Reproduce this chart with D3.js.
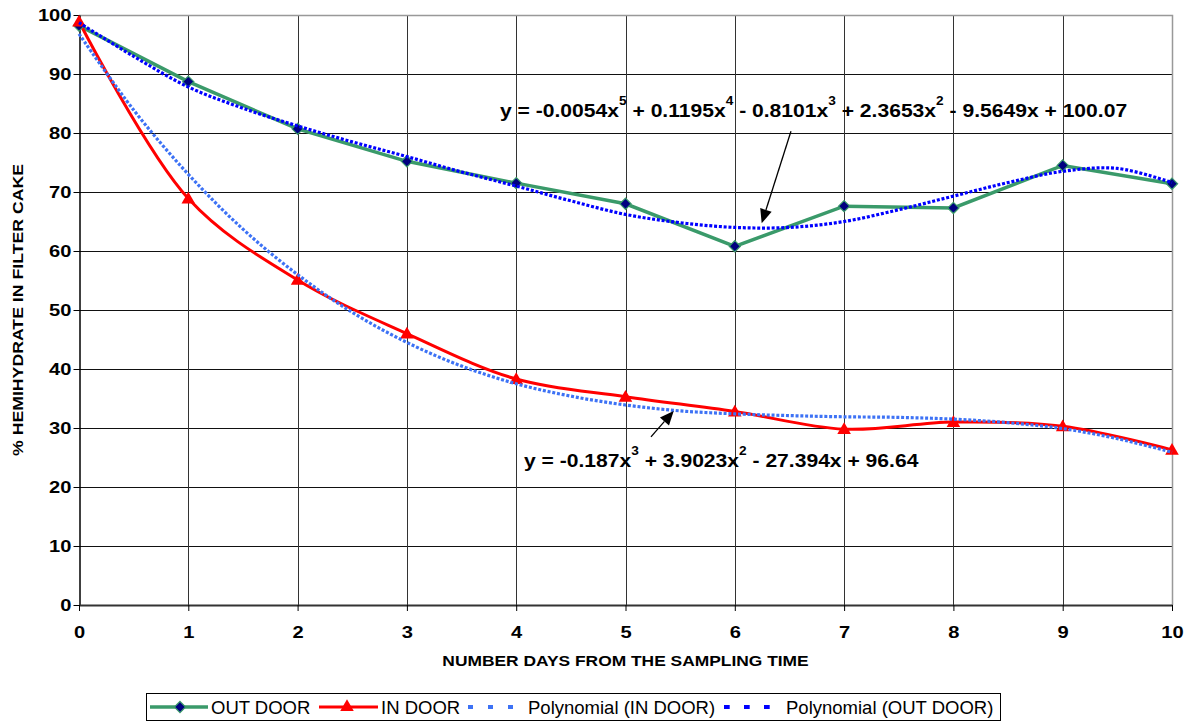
<!DOCTYPE html>
<html>
<head>
<meta charset="utf-8">
<script src="https://cdn.jsdelivr.net/npm/d3@7"></script>
<style>
  body { margin: 0; background: #fff; }
  svg { display: block; }
  text { font-family: "Liberation Sans", Arial, sans-serif; }
</style>
</head>
<body>
<svg id="chart"></svg>
<script>
// data
const days = [0, 1, 2, 3, 4, 5, 6, 7, 8, 9, 10];
const outDoor = [98.2, 88.7, 80.7, 75.2, 71.5, 68.0, 60.8, 67.6, 67.3, 74.5, 71.4];
const inDoor = [98.9, 68.9, 55.1, 46.0, 38.3, 35.3, 32.8, 29.8, 31.0, 30.3, 26.3];

// trendlines, read at half-day steps
const trendDays = [0, 0.5, 1, 1.5, 2, 2.5, 3, 3.5, 4, 4.5, 5, 5.5, 6, 6.5, 7, 7.5, 8, 8.5, 9, 9.5, 10];
const outTrend = [98.7, 93.0, 87.8, 84.2, 81.2, 78.5, 76.0, 73.4, 71.0, 68.5, 66.2, 64.8, 64.0, 64.0, 65.0, 67.0, 69.3, 71.6, 73.5, 74.0, 71.6];
const inTrend = [96.8, 83.9, 73.0, 63.7, 56.0, 49.6, 44.5, 40.5, 37.5, 35.4, 33.9, 32.9, 32.4, 32.1, 31.9, 31.8, 31.5, 30.9, 29.9, 28.2, 25.9];

const xTicks = [0, 1, 2, 3, 4, 5, 6, 7, 8, 9, 10];
const yTicks = [0, 10, 20, 30, 40, 50, 60, 70, 80, 90, 100];

// equation labels: [text, superscript]
const eqOut = [["y = -0.0054x", "5"], [" + 0.1195x", "4"], [" - 0.8101x", "3"], [" + 2.3653x", "2"], [" - 9.5649x + 100.07", ""]];
const eqIn = [["y = -0.187x", "3"], [" + 3.9023x", "2"], [" - 27.394x + 96.64", ""]];

const legendItems = ["OUT DOOR", "IN DOOR", "Polynomial (IN DOOR)", "Polynomial (OUT DOOR)"];

const width = 1188, height = 722;
const svg = d3.select("#chart").attr("width", width).attr("height", height);

const x = d3.scaleLinear().domain([0, 10]).range([79, 1172]);
const y = d3.scaleLinear().domain([0, 100]).range([605, 15]);

const green = "#3a9a6a", red = "#ff0000", lightBlue = "#3d72f5", darkBlue = "#0000ff", navy = "#000080";

// grid
const grid = svg.append("g");
grid.selectAll("line.h")
    .data(yTicks.filter(d => d > 0 && d < 100))
    .join("line")
    .attr("x1", x(0)).attr("x2", x(10))
    .attr("y1", d => Math.round(y(d)) + 0.5).attr("y2", d => Math.round(y(d)) + 0.5)
    .style("stroke", "#111").style("stroke-width", 1);
grid.selectAll("line.v")
    .data(xTicks.filter(d => d > 0 && d < 10))
    .join("line")
    .attr("y1", y(0)).attr("y2", y(100))
    .attr("x1", d => Math.round(x(d)) + 0.5).attr("x2", d => Math.round(x(d)) + 0.5)
    .style("stroke", "#333").style("stroke-width", 1);
// plot area border (top, right)
grid.append("path")
    .attr("d", `M${x(0)},${y(100) + 0.5}H${x(10) + 0.5}V${y(0)}`)
    .style("fill", "none").style("stroke", "#999").style("stroke-width", 1.5);

// axes
const yAxis = svg.append("g")
    .attr("transform", `translate(${x(0) + 0.5},0)`)
    .call(d3.axisLeft(y).tickValues(yTicks).tickSize(6).tickSizeOuter(0));
yAxis.select(".domain").style("stroke", "#000").style("stroke-width", 1.5);
yAxis.selectAll(".tick line").style("stroke", "#000");
yAxis.selectAll("text")
    .attr("x", null).attr("dy", "0.36em")
    .attr("transform", "translate(-8,0) scale(1.22,1)")
    .style("font-size", "16.5px").style("font-weight", "bold").style("fill", "#000");

const xAxis = svg.append("g")
    .attr("transform", `translate(0,${y(0)})`)
    .call(d3.axisBottom(x).tickValues(xTicks).tickSize(6).tickSizeOuter(0));
xAxis.select(".domain").style("stroke", "#333").style("stroke-width", 2);
xAxis.selectAll(".tick line").style("stroke", "#000");
xAxis.selectAll("text")
    .attr("y", null).attr("dy", null)
    .attr("transform", "translate(0,32.5) scale(1.22,1)")
    .style("font-size", "16.5px").style("font-weight", "bold").style("fill", "#000");

// axis titles
svg.append("text")
    .attr("transform", `translate(${(x(0) + x(10)) / 2},666) scale(1.2,1)`)
    .attr("text-anchor", "middle")
    .style("font-size", "14.5px").style("font-weight", "bold")
    .text("NUMBER DAYS FROM THE SAMPLING TIME");
svg.append("text")
    .attr("transform", `translate(23,${(y(0) + y(100)) / 2}) rotate(-90) scale(1.22,1)`)
    .attr("text-anchor", "middle")
    .style("font-size", "14.5px").style("font-weight", "bold")
    .text("% HEMIHYDRATE IN FILTER CAKE");

// series
const lines = svg.append("g");
const straight = d3.line().x((d, i) => x(days[i])).y(d => y(d));
const smooth = d3.line().x((d, i) => x(days[i])).y(d => y(d)).curve(d3.curveCatmullRom.alpha(0.5));
const trend = d3.line().x((d, i) => x(trendDays[i])).y(d => y(d)).curve(d3.curveCatmullRom.alpha(0.5));

lines.append("path").datum(outDoor).attr("d", straight)
    .style("fill", "none").style("stroke", green).style("stroke-width", 3.5);
lines.append("path").datum(inDoor).attr("d", smooth)
    .style("fill", "none").style("stroke", red).style("stroke-width", 3);

const diamond = d3.symbol().type(d3.symbolDiamond2).size(80);
const triangle = d3.symbol().type(d3.symbolTriangle).size(80);

lines.selectAll("path.out")
    .data(outDoor)
    .join("path")
    .attr("class", "out")
    .attr("d", diamond)
    .attr("transform", (d, i) => `translate(${x(days[i])},${y(d)})`)
    .style("fill", navy).style("stroke", green).style("stroke-width", 1.2);
lines.selectAll("path.in")
    .data(inDoor)
    .join("path")
    .attr("class", "in")
    .attr("d", triangle)
    .attr("transform", (d, i) => `translate(${x(days[i])},${y(d) + 1})`)
    .style("fill", red);

// trendlines
lines.append("path").datum(inTrend).attr("d", trend)
    .style("fill", "none").style("stroke", lightBlue).style("stroke-width", 3.2)
    .style("stroke-dasharray", "3,1.8");
lines.append("path").datum(outTrend).attr("d", trend)
    .style("fill", "none").style("stroke", darkBlue).style("stroke-width", 3.2)
    .style("stroke-dasharray", "3,1.8");

// equations
function equation(parts, px, py) {
    const t = svg.append("text")
        .attr("transform", `translate(${x(px)},${y(py)}) scale(1.14,1)`)
        .style("font-size", "18.5px").style("font-weight", "bold");
    let shift = 0;
    parts.forEach(p => {
        t.append("tspan").attr("dy", shift).text(p[0]);
        shift = 0;
        if (p[1]) {
            t.append("tspan").attr("dy", -12).style("font-size", "12px").text(p[1]);
            shift = 12;
        }
    });
}
equation(eqOut, 3.852, 82.7);
equation(eqIn, 4.071, 23.4);

// arrows
function arrow(x1, y1, x2, y2) {
    const ax = x(x1), ay = y(y1), bx = x(x2), by = y(y2);
    const dx = bx - ax, dy = by - ay, len = Math.hypot(dx, dy);
    const ux = dx / len, uy = dy / len, hl = 14, hw = 6;
    const baseX = bx - ux * hl, baseY = by - uy * hl;
    svg.append("line")
        .attr("x1", ax).attr("y1", ay).attr("x2", baseX).attr("y2", baseY)
        .style("stroke", "#000").style("stroke-width", 1.3);
    svg.append("path")
        .attr("d", `M${bx},${by}L${baseX - uy * hw},${baseY + ux * hw}L${baseX + uy * hw},${baseY - ux * hw}Z`)
        .style("fill", "#000");
}
arrow(6.514, 80.3, 6.246, 64.7);
arrow(5.233, 28.5, 5.441, 32.9);

// legend
const legend = svg.append("g");
legend.append("rect")
    .attr("x", 146.5).attr("y", 693.5).attr("width", 854).attr("height", 27)
    .style("fill", "#fff").style("stroke", "#000").style("stroke-width", 1);
const ly = 707;
const samples = [
    {x1: 150, x2: 208, color: green, w: 3.5, dash: null, mark: diamond, mx: 180, fill: navy},
    {x1: 319, x2: 378, color: red, w: 3, dash: null, mark: triangle, mx: 347, fill: red},
    {x1: 468, x2: 515, color: lightBlue, w: 4, dash: "5,15", mark: null},
    {x1: 724, x2: 771, color: darkBlue, w: 4, dash: "5.7,14.3", mark: null}
];
const textX = [211, 381, 528, 786];
samples.forEach((s, i) => {
    legend.append("line")
        .attr("x1", s.x1).attr("x2", s.x2).attr("y1", ly).attr("y2", ly)
        .style("stroke", s.color).style("stroke-width", s.w)
        .style("stroke-dasharray", s.dash);
    if (s.mark) {
        legend.append("path").attr("d", s.mark)
            .attr("transform", `translate(${s.mx},${ly})`)
            .style("fill", s.fill)
            .style("stroke", i === 0 ? green : "none").style("stroke-width", 1.2);
    }
    legend.append("text")
        .attr("x", textX[i]).attr("y", 714)
        .style("font-size", "18.5px")
        .text(legendItems[i]);
});
</script>
</body>
</html>
